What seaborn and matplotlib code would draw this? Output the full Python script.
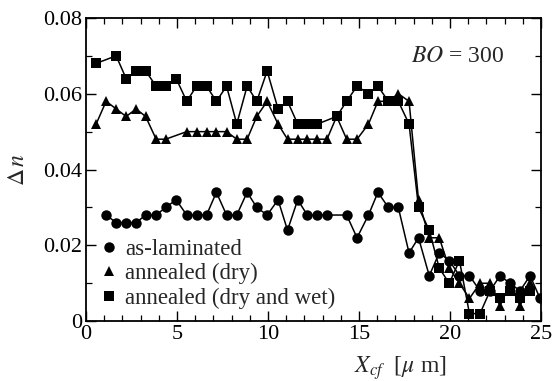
import numpy as np
import pandas as pd
import matplotlib
matplotlib.use("Agg")
import matplotlib.pyplot as plt
from matplotlib.lines import Line2D
from matplotlib.ticker import MultipleLocator, FuncFormatter
import seaborn as sns

# ---- data ----
x_lam = [1.10, 1.65, 2.20, 2.75, 3.27, 3.85, 4.37, 4.95, 5.53, 6.07, 6.62, 7.16, 7.72,
         8.28, 8.85, 9.38, 9.95, 10.55, 11.07, 11.63, 12.16, 12.71, 13.24, 14.32, 14.89,
         15.52, 16.04, 16.61, 17.16, 17.75, 18.27, 18.86, 19.41, 19.96, 20.52, 21.07,
         21.65, 22.20, 22.75, 23.30, 23.85, 24.40, 24.95]
dn_lam = [0.028, 0.026, 0.026, 0.026, 0.028, 0.028, 0.030, 0.032, 0.028, 0.028, 0.028, 0.034, 0.028,
          0.028, 0.034, 0.030, 0.028, 0.032, 0.024, 0.032, 0.028, 0.028, 0.028, 0.028, 0.022,
          0.028, 0.034, 0.030, 0.030, 0.018, 0.022, 0.012, 0.018, 0.016, 0.012, 0.012,
          0.008, 0.008, 0.012, 0.010, 0.008, 0.012, 0.006]

x_dry = [0.55, 1.10, 1.65, 2.20, 2.75, 3.27, 3.85, 4.37, 5.53, 6.07, 6.62, 7.16, 7.72,
         8.28, 8.85, 9.38, 9.95, 10.55, 11.07, 11.63, 12.16, 12.71, 13.24, 13.77, 14.32,
         14.89, 15.52, 16.04, 16.61, 17.16, 17.75, 18.27, 18.86, 19.41, 19.96, 20.52,
         21.07, 21.65, 22.20, 22.75, 23.30, 23.85, 24.40]
dn_dry = [0.052, 0.058, 0.056, 0.054, 0.056, 0.054, 0.048, 0.048, 0.050, 0.050, 0.050, 0.050, 0.050,
          0.048, 0.048, 0.054, 0.058, 0.052, 0.048, 0.048, 0.048, 0.048, 0.048, 0.054, 0.048,
          0.048, 0.052, 0.058, 0.058, 0.060, 0.058, 0.032, 0.022, 0.022, 0.014, 0.010,
          0.006, 0.010, 0.010, 0.004, 0.010, 0.004, 0.010]

x_wet = [0.55, 1.65, 2.20, 2.75, 3.27, 3.85, 4.37, 4.95, 5.53, 6.07, 6.62, 7.16, 7.72,
         8.28, 8.85, 9.38, 9.95, 10.55, 11.07, 11.63, 12.16, 12.71, 13.77, 14.32, 14.89,
         15.52, 16.04, 16.61, 17.16, 17.75, 18.27, 18.86, 19.41, 19.96, 20.52, 21.07,
         21.65, 22.20, 22.75, 23.30, 23.85, 24.40]
dn_wet = [0.068, 0.070, 0.064, 0.066, 0.066, 0.062, 0.062, 0.064, 0.058, 0.062, 0.062, 0.058, 0.062,
          0.052, 0.062, 0.058, 0.066, 0.056, 0.058, 0.052, 0.052, 0.052, 0.054, 0.058, 0.062,
          0.060, 0.062, 0.058, 0.058, 0.052, 0.030, 0.024, 0.014, 0.010, 0.016, 0.002,
          0.002, 0.008, 0.006, 0.008, 0.006, 0.008]

labels = ["as-laminated", "annealed (dry)", "annealed (dry and wet)"]
marker_map = {"as-laminated": "o", "annealed (dry)": "^", "annealed (dry and wet)": "s"}

df = pd.concat([
    pd.DataFrame({"x": x_lam, "dn": dn_lam, "series": labels[0]}),
    pd.DataFrame({"x": x_dry, "dn": dn_dry, "series": labels[1]}),
    pd.DataFrame({"x": x_wet, "dn": dn_wet, "series": labels[2]}),
], ignore_index=True)

sns.set_style("ticks")
plt.rcParams["font.family"] = ["Liberation Serif", "DejaVu Serif"]
plt.rcParams["mathtext.fontset"] = "stix"

fig = plt.figure(figsize=(5.52, 3.81), dpi=100)
ax = fig.add_axes([0.156, 0.157, 0.824, 0.796])

sns.lineplot(data=df, x="x", y="dn", style="series", markers=marker_map, dashes=False,
             color="black", estimator=None, sort=False, linewidth=1.1, markersize=7.5,
             markeredgewidth=0, legend=False, ax=ax)

ax.set_xlim(0, 25)
ax.set_ylim(0, 0.08)
ax.xaxis.set_major_locator(MultipleLocator(5))
ax.xaxis.set_minor_locator(MultipleLocator(1))
ax.yaxis.set_major_locator(MultipleLocator(0.02))
ax.yaxis.set_minor_locator(MultipleLocator(0.01))
ax.yaxis.set_major_formatter(FuncFormatter(lambda v, p: "0" if abs(v) < 1e-9 else f"{v:.2f}"))
ax.tick_params(which="both", direction="in", top=True, right=True, labelsize=16, colors="black")
ax.tick_params(which="major", length=7, width=1.0, pad=3)
ax.tick_params(which="minor", length=4, width=0.9)
for s in ax.spines.values():
    s.set_linewidth(1.3)
    s.set_color("black")

ax.set_xlabel(r"$\mathit{X}_{\mathit{cf}}$  [$\mu$ m]", fontsize=17)
ax.xaxis.set_label_coords(0.69, -0.11)
ax.set_ylabel(r"$\Delta\,\mathit{n}$", fontsize=17)
ax.yaxis.set_label_coords(-0.125, 0.5)

ax.text(20.4, 0.0697, r"$\mathit{BO}$ = 300", fontsize=17, ha="center", va="center")

handles = [Line2D([], [], linestyle="none", marker=marker_map[l], color="black",
                  markersize=7.5, markeredgewidth=0) for l in labels]
ax.legend(handles, labels, loc="lower left", bbox_to_anchor=(-0.01, -0.005), frameon=False,
          fontsize=16.5, handletextpad=0.1, handlelength=1.2, labelspacing=0.15, borderaxespad=0.2)

fig.savefig("out.png", dpi=100)
